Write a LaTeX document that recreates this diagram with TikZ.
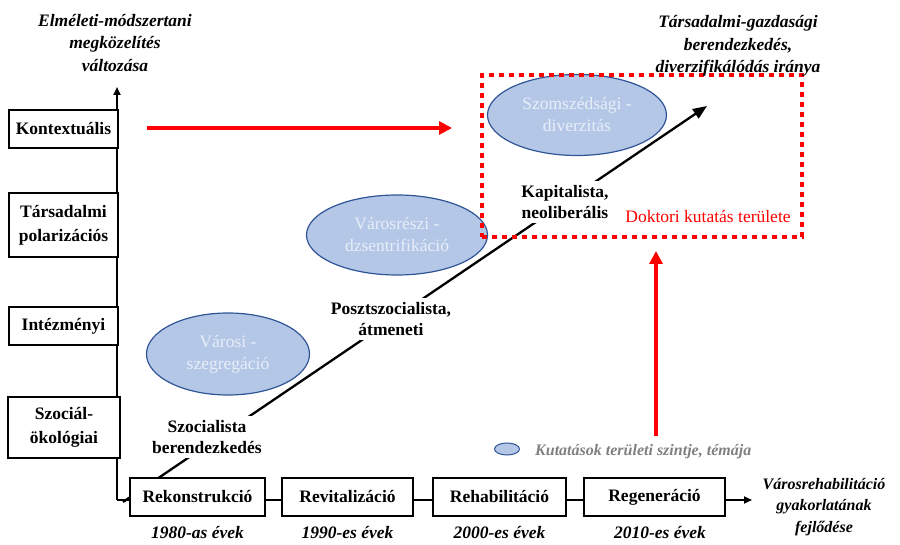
\documentclass[tikz,border=0pt]{standalone}
\usepackage{fontspec}
\setmainfont{Liberation Serif}
\usetikzlibrary{shapes.geometric,arrows.meta}
\definecolor{ellfill}{RGB}{180,199,231}
\definecolor{elldraw}{RGB}{47,85,151}
\definecolor{elltext}{RGB}{232,238,248}
\definecolor{myred}{RGB}{255,0,0}
\definecolor{leggray}{RGB}{128,128,128}
\newcommand{\fsz}[2]{\fontsize{#1}{#2}\selectfont}
\begin{document}
\begin{tikzpicture}[x=1pt,y=-1pt,
  lbox/.style={draw=black, line width=1.2pt, fill=white, align=center, inner sep=0pt,
    font=\fsz{17.5}{24}\bfseries},
  bbox/.style={draw=black, line width=1.2pt, fill=white, align=center, inner sep=0pt,
    font=\fsz{17.5}{21}\bfseries, minimum height=38pt},
  lab/.style={align=center, font=\fsz{17.5}{21.5}\bfseries, fill=white, inner sep=4pt},
  ttl/.style={align=center, font=\fsz{17.5}{22.5}\bfseries\itshape},
  ell/.style={ellipse, draw=elldraw, line width=1.2pt, fill=ellfill, text=elltext,
    align=center, inner sep=0pt, font=\fsz{17.5}{22}},
  yr/.style={font=\fsz{17.5}{20}\bfseries\itshape},
  axisline/.style={draw=black, line width=2pt},
  axisarrow/.style={axisline, -{Triangle[length=8pt,width=7pt]}},
  redarrow/.style={draw=myred, line width=4pt, -{Triangle[length=13pt,width=13pt]}},
  diagarrow/.style={draw=black, line width=2.3pt, -{Triangle[length=14pt,width=11pt]}},
  docbox/.style={draw=myred, line width=4.5pt, dash pattern=on 5pt off 5pt, inner sep=0pt}
]
\useasboundingbox (0,0) rectangle (900,545);

% coordinates
\coordinate (corner) at (117,500);
\coordinate (ytip) at (117,87);
\coordinate (xtip) at (752,500);
\coordinate (d1) at (123,502);
\coordinate (d2) at (707,106);
\coordinate (rh1) at (147,128);
\coordinate (rh2) at (452,128);
\coordinate (rv1) at (656,436);
\coordinate (rv2) at (656,251);

% vertical axis
\draw[axisarrow] (corner) -- (ytip);

% diagonal development arrow
\draw[diagarrow] (d1) -- (d2);

% ellipses
\node[ell, minimum width=163pt, minimum height=82pt] (e1) at (228,354) {Városi -\\szegregáció};
\node[ell, minimum width=181pt, minimum height=80pt] (e2) at (397,235) {Városrészi -\\dzsentrifikáció};
\node[ell, minimum width=179pt, minimum height=81pt] (e3) at (577,115) {Szomszédsági -\\diverzitás};

% doctoral research area
\node[docbox, minimum width=320pt, minimum height=162pt] (doc) at (642,156) {};
\node[font=\fsz{17.5}{20}, text=myred] (doctxt) at (708,217) {Doktori kutatás területe};

% left boxes
\node[lbox, minimum width=109pt, minimum height=38pt] (K) at (63.5,129) {Kontextuális};
\node[lbox, minimum width=109pt, minimum height=64pt] (T) at (63.5,225) {Társadalmi\\polarizációs};
\node[lbox, minimum width=109pt, minimum height=38pt] (I) at (63.5,326) {Intézményi};
\node[lbox, minimum width=112pt, minimum height=61pt] (S) at (64,427.5) {Szociál-\\ökológiai};

% bottom boxes
\node[bbox, minimum width=135pt] (B1) at (197.5,497) {Rekonstrukció};
\node[bbox, minimum width=131pt] (B2) at (347.5,497) {Revitalizáció};
\node[bbox, minimum width=133pt] (B3) at (499.5,497) {Rehabilitáció};
\node[bbox, minimum width=141pt] (B4) at (654.5,497) {Regeneráció};

\draw[axisline] (corner) -- (B1.west |- corner);
\draw[axisline] (B1.east |- corner) -- (B2.west |- corner);
\draw[axisline] (B2.east |- corner) -- (B3.west |- corner);
\draw[axisline] (B3.east |- corner) -- (B4.west |- corner);
\draw[axisarrow] (B4.east |- corner) -- (xtip);

% stage labels
\node[lab] (L1) at (207,437) {Szocialista\\berendezkedés};
\node[lab] (L2) at (391,319) {Posztszocialista,\\átmeneti};
\node[lab] (L3) at (565,202) {Kapitalista,\\neoliberális};

% red arrows
\draw[redarrow] (rh1) -- (rh2);
\draw[redarrow] (rv1) -- (rv2);

% titles
\node[ttl] (t1) at (115,43) {Elméleti-módszertani\\megközelítés\\változása};
\node[ttl] (t2) at (738,46) {Társadalmi-gazdasági\\berendezkedés,\\diverzifikálódás iránya};
\node[align=center, font=\fsz{16}{21.5}\bfseries\itshape] (t3) at (824,507) {Városrehabilitáció\\gyakorlatának\\fejlődése};

% years
\node[yr] (y1) at (197.5,533) {1980-as évek};
\node[yr] (y2) at (347.5,533) {1990-es évek};
\node[yr] (y3) at (499.5,533) {2000-es évek};
\node[yr] (y4) at (660,533) {2010-es évek};

% legend
\node[ellipse, draw=elldraw, line width=1pt, fill=ellfill, minimum width=25pt, minimum height=12pt, inner sep=0pt] (leg) at (507,449) {};
\node[anchor=west, text=leggray, font=\fsz{16}{20}\bfseries\itshape, inner sep=0pt] (legtxt) at (535,452) {Kutatások területi szintje, témája};
\end{tikzpicture}
\end{document}
